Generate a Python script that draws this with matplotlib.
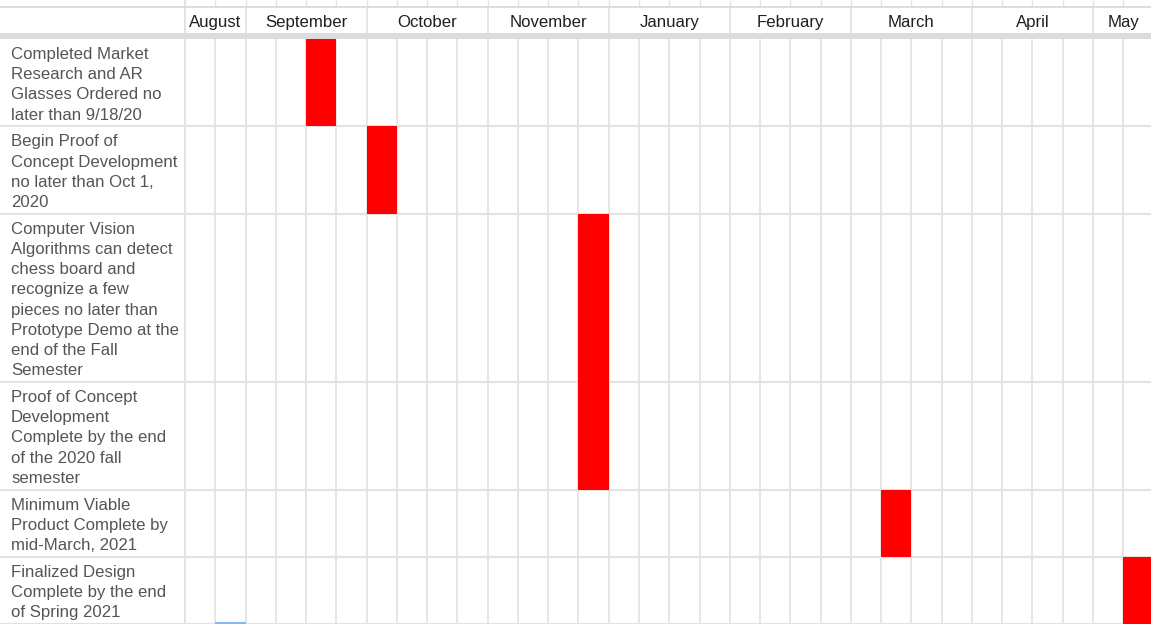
import matplotlib
matplotlib.use("Agg")
import matplotlib.pyplot as plt

plt.rcParams['font.family'] = ['Liberation Sans', 'DejaVu Sans']

# month header labels and how many week columns each spans (May is cut off)
months = ['August', 'September', 'October', 'November', 'January',
          'February', 'March', 'April', 'May']
month_weeks = [2, 4, 4, 4, 4, 4, 4, 4, 2]

# milestone text (wrapped as in the sheet) and the week column that is filled
tasks = [
    ['Completed Market', 'Research and AR', 'Glasses Ordered no', 'later than 9/18/20'],
    ['Begin Proof of', 'Concept Development', 'no later than Oct 1,', '2020'],
    ['Computer Vision', 'Algorithms can detect', 'chess board and', 'recognize a few',
     'pieces no later than', 'Prototype Demo at the', 'end of the Fall', 'Semester'],
    ['Proof of Concept', 'Development', 'Complete by the end', 'of the 2020 fall', 'semester'],
    ['Minimum Viable', 'Product Complete by', 'mid-March, 2021'],
    ['Finalized Design', 'Complete by the end', 'of Spring 2021'],
]
task_week = [4, 6, 13, 13, 23, 31]
# rows 3 and 4 share one merged bar
merged_bar = {2: 2}

W, H = 1151, 624
wk = (1093 - 185) / 30.0          # pixel width of one week column
x_left = -185 / wk
x_right = (W - 185) / wk
n_weeks = 33

fig = plt.figure(figsize=(W / 100, H / 100), dpi=100)
ax = fig.add_axes([0, 0, 1, 1])
ax.set_xlim(x_left, x_right)
ax.set_ylim(H, 0)
ax.axis('off')

grid = '#e2e2e2'
line_h = 20.2
top_line = 7
band_top, band_bot = 33, 39
fs = 12.1

# row boundaries
bounds = [band_bot]
for t in tasks:
    bounds.append(bounds[-1] + line_h * len(t) + 6.6)

# bars
for i, w in enumerate(task_week):
    rows = merged_bar.get(i, 1)
    if i == 3:
        continue
    ax.bar(w, bounds[i + rows] - bounds[i], bottom=bounds[i], width=1,
           align='edge', color='#ff0000', zorder=3, linewidth=0)

# vertical week lines in body
for k in range(n_weeks + 1):
    ax.vlines(k, band_bot, H, color=grid, lw=1.2, zorder=1)
    ax.vlines(k, 0, top_line, color=grid, lw=1.0, zorder=1)
ax.vlines(0, 0, H, color=grid, lw=1.2, zorder=1)

# month boundaries and labels in header
start = 0
for m, n in zip(months, month_weeks):
    ax.vlines(start, top_line, band_top, color=grid, lw=1.2, zorder=1)
    ax.text(start + n / 2, 22.5, m, ha='center', va='center', fontsize=fs,
            color='#1f1f1f')
    start += n
ax.vlines(start, top_line, band_top, color=grid, lw=1.2, zorder=1)

# horizontal lines
ax.hlines(top_line, x_left, x_right, color='#d8d8d8', lw=1.2, zorder=1)
ax.axhspan(band_top, band_bot, color='#dadce0', zorder=2, lw=0)
for b in bounds[1:]:
    if b == bounds[3]:
        ax.hlines(b, x_left, 13, color=grid, lw=1.5, zorder=1)
        ax.hlines(b, 14, x_right, color=grid, lw=1.5, zorder=1)
    else:
        ax.hlines(b, x_left, x_right, color=grid, lw=1.5, zorder=1)

# task labels
for i, lines in enumerate(tasks):
    for j, s in enumerate(lines):
        ax.text(x_left + 11 / wk, bounds[i] + 15.5 + line_h * j, s, ha='left',
                va='center', fontsize=fs, color='#555555')

# small selection marker at the bottom
ax.hlines(H - 1, 1, 2, color='#8ab4f8', lw=1.5, zorder=4)

fig.savefig('out.png', dpi=100)
